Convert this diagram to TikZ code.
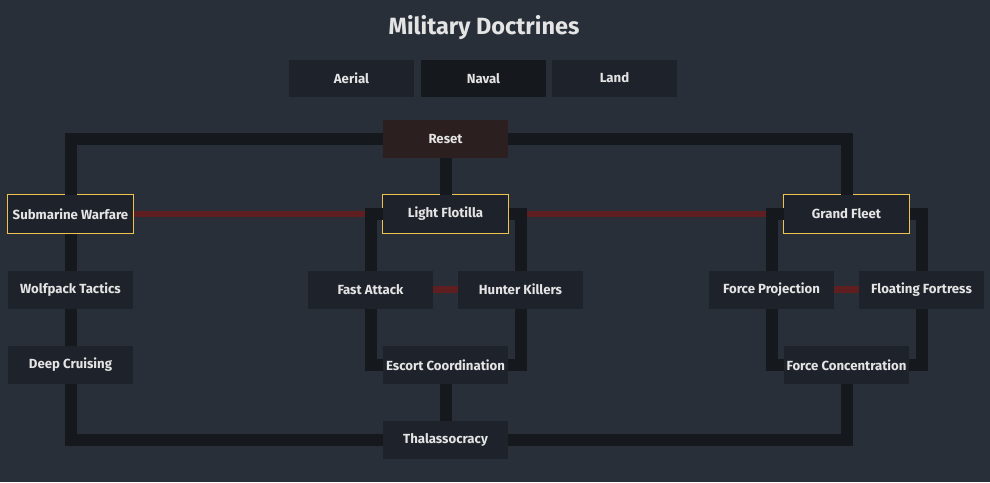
\documentclass[tikz,border=0pt]{standalone}
\usepackage{fontspec}
\setmainfont{Fira Sans}
\usetikzlibrary{positioning}

\definecolor{bgCol}{HTML}{282F39}
\definecolor{cardCol}{HTML}{1E232B}
\definecolor{trunkCol}{HTML}{15181C}
\definecolor{resetCol}{HTML}{2B1F1F}
\definecolor{lockCol}{HTML}{5F1E1F}
\definecolor{pickCol}{HTML}{F0C350}
\definecolor{textCol}{HTML}{E4E4E4}

\tikzset{
    doctrine/.style={fill=cardCol, text=textCol, minimum width=125pt, minimum height=38pt,
        inner sep=0pt, outer sep=0pt, font=\fontsize{13.2}{15}\selectfont\bfseries},
    picked/.style={doctrine, draw=pickCol, line width=1pt, minimum width=126pt, minimum height=39pt},
    tab/.style={doctrine, minimum height=37pt},
    trunk/.style={draw=trunkCol, line width=12pt},
    exclusive/.style={draw=lockCol, line width=6.5pt}
}

\begin{document}
\begin{tikzpicture}[x=1pt, y=-1pt]
    % --- Background ---
    \fill[bgCol] (0,0) rectangle (990,482);
    \node[text=textCol, font=\fontsize{23.5}{26}\selectfont\bfseries] (title) at (484,28) {Military Doctrines};

    % --- Tabs ---
    \node[tab] (aerial) at (351.5,78.5) {Aerial};
    \node[tab, fill=trunkCol] (naval) at (483.5,78.5) {Naval};
    \node[tab] (land) at (614.5,78) {Land};

    % --- Doctrines ---
    \node[doctrine, fill=resetCol] (reset) at (445.5,139) {Reset};
    \node[picked] (subwar) at (70.5,214) {Submarine Warfare};
    \node[picked] (lightflot) at (445.5,214) {Light Flotilla};
    \node[picked] (grandfleet) at (846.5,214) {Grand Fleet};
    \node[doctrine] (wolfpack) at (70.5,289.5) {Wolfpack Tactics};
    \node[doctrine] (deepcruise) at (70.5,365) {Deep Cruising};
    \node[doctrine] (fastattack) at (370.5,289.5) {Fast Attack};
    \node[doctrine] (hunterkill) at (520.5,289.5) {Hunter Killers};
    \node[doctrine] (escort) at (445.5,365) {Escort Coordination};
    \node[doctrine] (forceproj) at (771.5,289.5) {Force Projection};
    \node[doctrine] (floatfort) at (921.5,289.5) {Floating Fortress};
    \node[doctrine] (forceconc) at (846.5,365) {Force Concentration};
    \node[doctrine] (thalasso) at (445.5,440) {Thalassocracy};

    % --- Exclusive choices ---
    \draw[exclusive] (subwar) -- (lightflot);
    \draw[exclusive] (lightflot) -- (grandfleet);
    \draw[exclusive] (fastattack) -- (hunterkill);
    \draw[exclusive] (forceproj) -- (floatfort);

    % --- Tree lines ---
    \draw[trunk] (subwar) |- (reset);
    \draw[trunk] (reset) -| (grandfleet);
    \draw[trunk] (reset) -- (lightflot);
    \draw[trunk] (subwar) -- (wolfpack);
    \draw[trunk] (wolfpack) -- (deepcruise);
    \draw[trunk] (deepcruise) |- (thalasso);
    \draw[trunk] (thalasso) -| (forceconc);
    \draw[trunk] (escort) -- (thalasso);
    \draw[trunk] (lightflot.west) -| (fastattack);
    \draw[trunk] (fastattack) |- (escort);
    \draw[trunk] (lightflot.east) -| (hunterkill);
    \draw[trunk] (hunterkill) |- (escort);
    \draw[trunk] (grandfleet.west) -| (forceproj);
    \draw[trunk] (forceproj) |- (forceconc);
    \draw[trunk] (grandfleet.east) -| (floatfort);
    \draw[trunk] (floatfort) |- (forceconc);
\end{tikzpicture}
\end{document}
